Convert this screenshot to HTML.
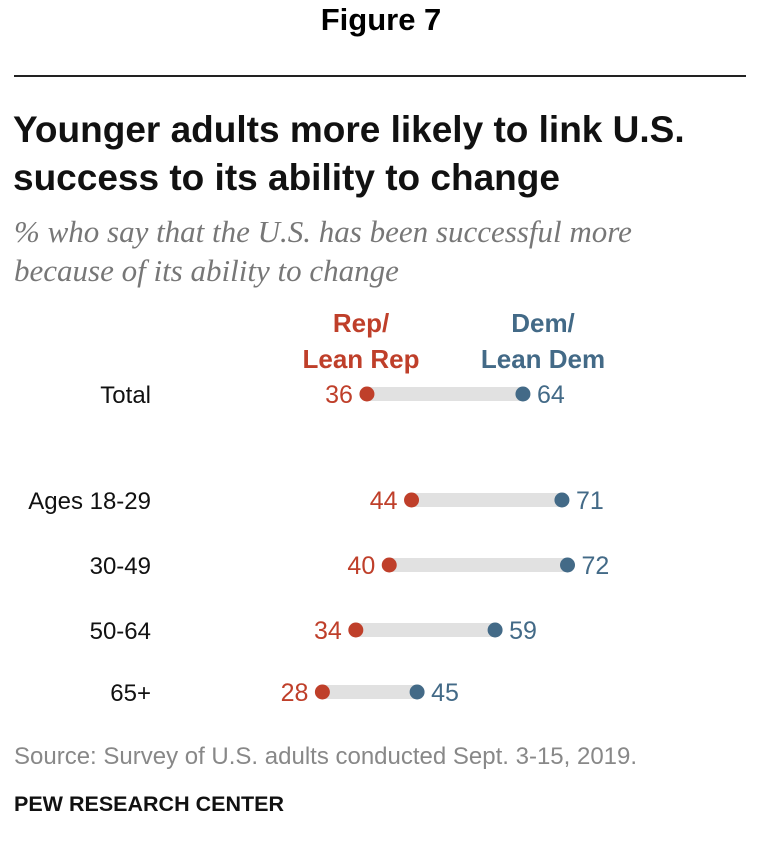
<!DOCTYPE html>
<html><head><meta charset="utf-8">
<style>
body{margin:0;width:762px;height:848px;background:#fff;font-family:"Liberation Sans",sans-serif;position:relative;overflow:hidden}
.abs{position:absolute;white-space:nowrap}
</style></head>
<body>
<div class="abs" style="left:0;width:762px;top:2px;text-align:center;font-size:31px;font-weight:bold;color:#000">Figure 7</div>
<div class="abs" style="left:14px;top:75px;width:732px;height:2px;background:#222"></div>
<div class="abs" style="left:13px;top:106px;font-size:37px;font-weight:bold;color:#111;line-height:48px">Younger adults more likely to link U.S.<br>success to its ability to change</div>
<div class="abs" style="left:14px;top:212px;font-family:'Liberation Serif',serif;font-style:italic;font-size:31px;color:#777;line-height:39px">% who say that the U.S. has been successful more<br>because of its ability to change</div>
<div class="abs" style="left:286px;width:150px;top:305px;text-align:center;font-size:26px;font-weight:bold;color:#bf3f2a;line-height:36px">Rep/<br>Lean Rep</div>
<div class="abs" style="left:468px;width:150px;top:305px;text-align:center;font-size:26px;font-weight:bold;color:#436a87;line-height:36px">Dem/<br>Lean Dem</div>
<svg id="chart" width="762" height="848" style="position:absolute;left:0;top:0"></svg>
<div class="abs" style="left:14px;top:743px;font-size:24px;color:#888">Source: Survey of U.S. adults conducted Sept. 3-15, 2019.</div>
<div class="abs" style="left:14px;top:792px;font-size:21.5px;font-weight:bold;color:#111">PEW RESEARCH CENTER</div>
<script>
const categories=["Total","Ages 18-29","30-49","50-64","65+"];
const repValues=[36,44,40,34,28];
const demValues=[64,71,72,59,45];
const rowY=[394,500,565,630,692];
const x=v=>166.4+v*5.571;
const svg=document.getElementById('chart');
const NS="http://www.w3.org/2000/svg";
function mk(t,a){const e=document.createElementNS(NS,t);for(const k in a)e.setAttribute(k,a[k]);svg.appendChild(e);return e;}
categories.forEach((c,i)=>{
  const y=rowY[i];
  const lab=mk('text',{x:151,y:y+9,'text-anchor':'end','font-size':24,fill:'#111','font-family':'Liberation Sans, sans-serif'});
  lab.textContent=c;
  
  
  const bar=mk('rect',{x:x(repValues[i]),y:y-7,width:x(demValues[i])-x(repValues[i]),height:14,fill:'#e1e1e1'});
  
  
  const rd=mk('circle',{cx:x(repValues[i]),cy:y,r:7.5,fill:'#bf3f2a'});
  
  
  const dd=mk('circle',{cx:x(demValues[i]),cy:y,r:7.5,fill:'#436a87'});
  
  
  const rv=mk('text',{x:x(repValues[i])-14,y:y+9,'text-anchor':'end','font-size':25,fill:'#bf3f2a','font-family':'Liberation Sans, sans-serif'});
  rv.textContent=repValues[i];
  
  
  const dv=mk('text',{x:x(demValues[i])+14,y:y+9,'text-anchor':'start','font-size':25,fill:'#436a87','font-family':'Liberation Sans, sans-serif'});
  dv.textContent=demValues[i];
  
  
});
</script>
</body></html>
